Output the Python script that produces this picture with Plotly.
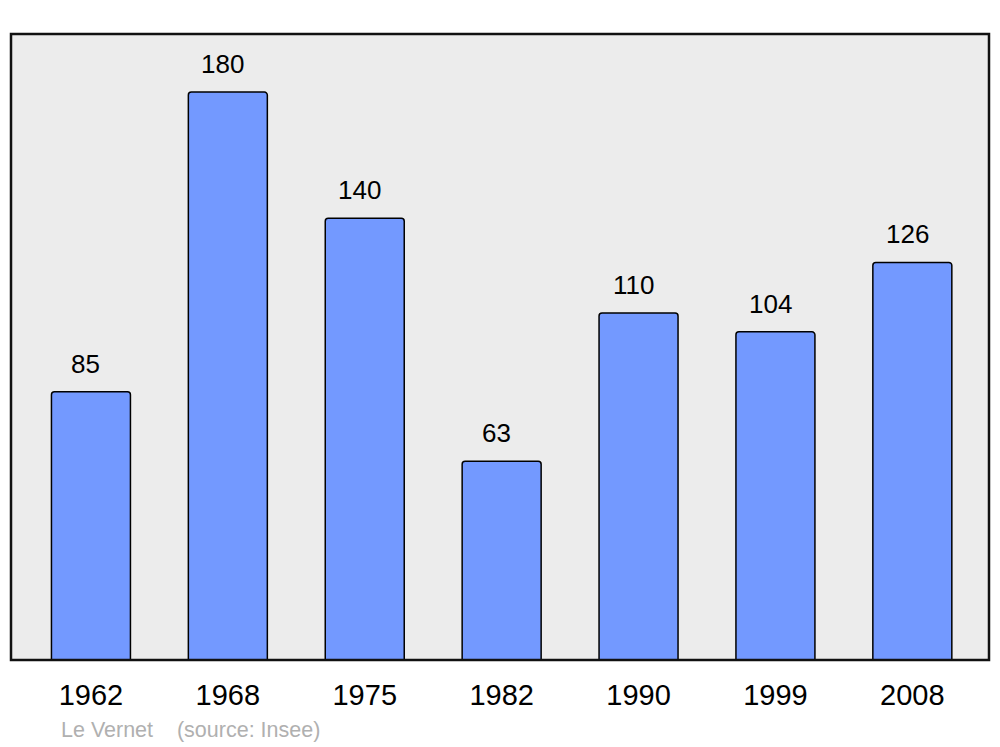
import plotly.graph_objects as go

years = ["1962", "1968", "1975", "1982", "1990", "1999", "2008"]
population = [85, 180, 140, 63, 110, 104, 126]
caption = "Le Vernet    (source: Insee)"

xpos = list(range(len(years)))
FONT = "Liberation Sans, Arial, sans-serif"

fig = go.Figure()
fig.add_trace(go.Bar(
    x=xpos, y=population, width=0.577,
    marker=dict(color="#7399ff", line=dict(color="#000000", width=1.5), cornerradius=3),
    hoverinfo="skip",
))

for xv, v in zip(xpos, population):
    fig.add_annotation(x=xv, y=v, text=str(v), showarrow=False, xref="x", yref="y",
                       yanchor="bottom", yshift=11, xshift=-5,
                       font=dict(family=FONT, size=26, color="#000000"))

fig.add_annotation(x=(59 - 11) / 978, y=(660 - 730) / 626, xref="paper", yref="paper",
                   text=caption, showarrow=False, xanchor="left", yanchor="middle",
                   font=dict(family=FONT, size=21.5, color="#b0b0b0"))

fig.update_layout(
    width=992, height=739,
    margin=dict(l=3, r=11, t=26, b=87),
    paper_bgcolor="#ffffff",
    plot_bgcolor="#ececec",
    showlegend=False,
    xaxis=dict(range=[-0.584, 6.56], tickvals=xpos, ticktext=years, showgrid=False, zeroline=False,
               ticks="", ticklabelstandoff=15,
               tickfont=dict(family=FONT, size=29, color="#000000"),
               fixedrange=True),
    yaxis=dict(range=[0, 198.4], showgrid=False, zeroline=False, showticklabels=False, ticks="",
               fixedrange=True),
    shapes=[dict(type="rect", xref="paper", yref="paper", x0=0, x1=1, y0=0, y1=1,
                 line=dict(color="#111111", width=2.5), layer="above")],
)

fig.write_html("out.html")
